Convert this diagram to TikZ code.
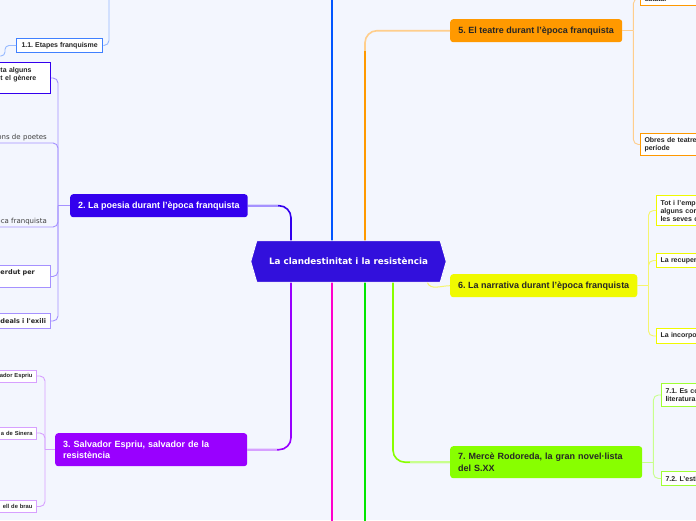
\documentclass[tikz,border=0pt]{standalone}
\usepackage{fontspec}
\setmainfont{Liberation Sans}
\newfontfamily\verdana{DejaVu Sans}
\usetikzlibrary{positioning}
\frenchspacing

\definecolor{paper}{RGB}{243,246,254}
\definecolor{centrecol}{RGB}{50,16,220}
\definecolor{etapcol}{RGB}{0,85,255}
\definecolor{poesiacol}{RGB}{51,0,238}
\definecolor{espriucol}{RGB}{153,0,255}
\definecolor{magcol}{RGB}{255,0,204}
\definecolor{verdcol}{RGB}{0,230,0}
\definecolor{teatrecol}{RGB}{255,153,0}
\definecolor{narrcol}{RGB}{240,250,0}
\definecolor{rodocol}{RGB}{136,255,0}
\definecolor{tonelina}{RGB}{150,185,255}
\definecolor{dosline}{RGB}{165,145,255}
\definecolor{tresline}{RGB}{215,160,255}
\definecolor{cincline}{RGB}{255,206,140}
\definecolor{sisline}{RGB}{245,245,110}
\definecolor{setline}{RGB}{200,255,140}

\begin{document}
\begin{tikzpicture}[x=1pt,y=1pt,
    branch/.style={line width=1.6pt, rounded corners=12pt},
    twig/.style={line width=0.9pt, rounded corners=5pt},
    topic/.style={fill=#1, rounded corners=3pt, inner xsep=8pt, inner ysep=0pt,
      font=\bfseries\fontsize{9}{11.5}\selectfont, anchor=north west},
    subbox/.style={draw=#1, fill=white, line width=1pt, inner xsep=4pt, inner ysep=0pt,
      font=\bfseries\fontsize{7}{8}\selectfont, text=black!85},
    plainsub/.style={font=\verdana\fontsize{7}{8}\selectfont, text=black!75,
      anchor=south east, inner sep=2pt, text width=60pt, align=right},
  ]
  % Paper
  \useasboundingbox (0,0) rectangle (696,-520);
  \fill[paper] (0,0) rectangle (696,-520);
  \clip (0,0) rectangle (696,-520);

  % Central idea
  \node[minimum width=195pt, minimum height=41pt, inner sep=0pt] (centre) at (348.5,-261.5) {};

  % Main topics
  \node[topic=poesiacol, text=white, minimum width=177pt, minimum height=23pt] (poesia) at (70,-194)
    {2. La poesia durant l'època franquista};
  \node[topic=espriucol, text=white, text width=176pt, align=left, minimum height=33pt] (espriu) at (55,-433)
    {3. Salvador Espriu, salvador de la\\resistència};
  \node[topic=teatrecol, text=black!85, minimum width=172pt, minimum height=23pt] (teatre) at (450,-19)
    {5. El teatre durant l'època franquista};
  \node[topic=narrcol, text=black!85, minimum width=187pt, minimum height=23pt] (narrativa) at (450,-274)
    {6. La narrativa durant l'època franquista};
  \node[topic=rodocol, text=black!85, text width=176pt, align=left, minimum height=32pt] (rodoreda) at (450,-446)
    {7. Mercè Rodoreda, la gran novel·lista\\del S.XX};

  % Branches from the centre
  \coordinate (amunt) at (332,5);
  \coordinate (avall) at (332,-525);
  \coordinate (avallverd) at (365,-525);
  \draw[branch, etapcol] ([xshift=-16.5pt]centre.north) -- (amunt);
  \draw[branch, magcol] ([xshift=-16.5pt]centre.south) -- (avall);
  \draw[branch, verdcol] ([xshift=16.5pt]centre.south) -- (avallverd);
  \draw[branch, poesiacol] ([xshift=-57.5pt]centre.north) |- (poesia.east);
  \draw[line width=1.6pt, dosline] (poesia.east) -- ++(30,0);
  \draw[branch, espriucol] ([xshift=-57.5pt]centre.south) |- (espriu.east);
  \draw[line width=1.6pt, tresline] (espriu.east) -- ++(30,0);
  \draw[branch, cincline] ([xshift=16.5pt]centre.north) |- (teatre.west);
  \draw[line width=1.6pt, teatrecol] ([xshift=16.5pt]centre.north) -- ++(0,190);
  \draw[branch, rodocol] ([xshift=44.5pt]centre.south) |- (rodoreda.west);
  \draw[line width=1.6pt, setline] (rodoreda.west) -- ++(-40,0);
  \draw[line width=1pt, sisline] ([xshift=-19pt]centre.south east) to[out=-70,in=180] (narrativa.west);

  % Central shape on top
  \fill[centrecol, draw=white, line width=0.8pt] (centre.west) -- ([xshift=6pt]centre.north west)
    -- ([xshift=-6pt]centre.north east) -- (centre.east) -- ([xshift=-6pt]centre.south east)
    -- ([xshift=6pt]centre.south west) -- cycle;
  \node[text=white, font=\verdana\bfseries\fontsize{8.8}{10}\selectfont] (centretext) at (centre)
    {La clandestinitat i la resistència};

  % 1.1
  \node[subbox=etapcol!75, minimum height=14pt, anchor=north west, inner xsep=5pt] (etapes) at (16,-38)
    {1.1. Etapes franquisme};
  \coordinate (etapup) at (109,5);
  \coordinate (etapleft) at (-5,-56);
  \draw[twig, tonelina] (etapes.east) -| (etapup);
  \draw[twig, tonelina, rounded corners=4pt] (etapes.west) -- ++(-11,0) |- (etapleft);

  % Subtopics of 2
  \node[subbox=poesiacol, text width=46pt, align=left, minimum height=31pt, anchor=north east] (alguns) at (51,-62)
    {ta alguns\\t el gènere\\\mbox{}};
  \node[plainsub] (poetes) at (49,-143) {ons de poetes};
  \node[plainsub] (franq) at (49,-227) {oca franquista};
  \node[subbox=dosline, font=\verdana\bfseries\fontsize{6.5}{8}\selectfont, text width=46pt, align=left,
    minimum height=22pt, anchor=north east] (perdut) at (51,-265) {erdut per\\\mbox{}};
  \node[subbox=dosline, font=\verdana\bfseries\fontsize{6.5}{8}\selectfont, text width=46pt, align=left,
    minimum height=15pt, anchor=north east] (exili) at (51,-313) {deals i l'exili};
  \draw[twig, dosline] (poesia.west) -- ++(-12,0) coordinate (poesiahub);
  \draw[twig, dosline] (poesiahub) |- (alguns.east);
  \draw[twig, dosline] (poesiahub) |- (poetes.south east) -- (poetes.south west);
  \draw[twig, dosline] (poesiahub) |- (franq.south east) -- (franq.south west);
  \draw[twig, dosline] (poesiahub) |- (perdut.east);
  \draw[twig, dosline] (poesiahub) |- (exili.east);

  % Subtopics of 3
  \node[subbox=tresline, font=\bfseries\fontsize{5.8}{7}\selectfont, text width=40pt, align=right,
    minimum height=12pt, anchor=east] (biografia) at (37,-376) {ador Espriu};
  \node[subbox=tresline, font=\bfseries\fontsize{5.8}{7}\selectfont, text width=40pt, align=right,
    minimum height=12pt, anchor=east] (sinera) at (37,-433) {a de Sinera};
  \node[subbox=tresline, font=\bfseries\fontsize{5.8}{7}\selectfont, text width=40pt, align=right,
    minimum height=12pt, anchor=east] (brau) at (37,-506.5) {ell de brau};
  \draw[twig, tresline] (espriu.west) -- ++(-10,0) coordinate (espriuhub);
  \draw[twig, tresline] (espriuhub) |- (biografia.east);
  \draw[twig, tresline] (espriuhub) |- (sinera.east);
  \draw[twig, tresline] (espriuhub) |- (brau.east);

  % Subtopics of 5
  \node[subbox=teatrecol, text width=60pt, align=left, minimum height=14pt, anchor=south west] (catala) at (640,-6)
    {català.};
  \node[subbox=teatrecol, text width=60pt, align=left, minimum height=22pt, anchor=north west] (obres) at (640,-133)
    {Obres de teatre\\període};
  \draw[twig, cincline] (teatre.east) -- ++(11,0) coordinate (teatrehub);
  \draw[twig, cincline] (teatrehub) |- (catala.west);
  \draw[twig, cincline] (teatrehub) |- (obres.west);

  % Subtopics of 6
  \node[subbox=narrcol, text width=60pt, align=left, minimum height=30pt, anchor=north west] (empenta) at (656,-195)
    {Tot i l'empe\\alguns cor\\les seves c};
  \node[subbox=narrcol, text width=60pt, align=left, minimum height=14pt, anchor=north west] (recuper) at (656,-253)
    {La recuper};
  \node[subbox=narrcol, text width=60pt, align=left, minimum height=15pt, anchor=north west] (incorpo) at (656,-328)
    {La incorpo};
  \draw[twig, sisline] (narrativa.east) -- ++(11,0) coordinate (narrhub);
  \draw[twig, sisline] (narrhub) |- (empenta.west);
  \draw[twig, sisline] (narrhub) |- (recuper.west);
  \draw[twig, sisline] (narrhub) |- (incorpo.west);

  % Subtopics of 7
  \node[subbox=rodocol!80, text width=60pt, align=left, minimum height=23pt, anchor=north west] (consagra) at (661,-383)
    {7.1. Es co\\literatura};
  \node[subbox=rodocol!80, text width=60pt, align=left, minimum height=14pt, anchor=north west] (estil) at (661,-471)
    {7.2. L'esti};
  \draw[twig, setline] (rodoreda.east) -- ++(11,0) coordinate (rodohub);
  \draw[twig, setline] (rodohub) |- (consagra.west);
  \draw[twig, setline] (rodohub) |- (estil.west);
\end{tikzpicture}
\end{document}
